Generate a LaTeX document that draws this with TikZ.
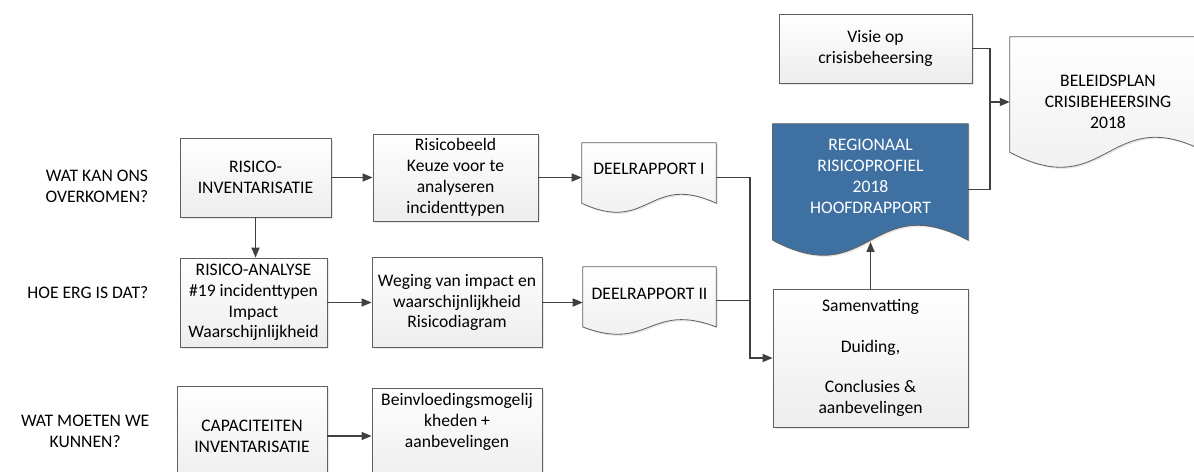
\documentclass[tikz,border=0pt]{standalone}
\usepackage{fontspec}
\setmainfont{Carlito}
\usetikzlibrary{arrows.meta,calc,shadows}

\definecolor{regblue}{HTML}{3E71A1}
\definecolor{lijn}{HTML}{404040}

\tikzset{
  box/.style={draw=gray!75!black, line width=0.6pt, top color=white, bottom color=gray!14,
    align=center, inner sep=1pt,
    drop shadow={shadow xshift=1.2pt, shadow yshift=-1.2pt, opacity=0.18}},
  docbox/.style={inner sep=0pt},
  docline/.style={draw=gray!75!black, line width=0.6pt, top color=white, bottom color=gray!14,
    drop shadow={shadow xshift=1.2pt, shadow yshift=-1.2pt, opacity=0.18}},
  doctxt/.style={align=center, inner sep=0pt},
  vraag/.style={align=center, anchor=east},
  conn/.style={->, draw=lijn, line width=1.1pt},
  lijnstuk/.style={draw=lijn, line width=1.1pt},
}

% outline of a document shape round node #2, wave amplitude #3
\newcommand{\docoutline}[3][]{%
  \path[docline,#1] (#2.north west) -- (#2.north east) -- ([yshift=#3]#2.south east)
    .. controls ([yshift=#3*4.46]#2.south) and ([yshift=-#3*2.46]#2.south)
    .. ([yshift=#3]#2.south west) -- cycle;}

\begin{document}
\begin{tikzpicture}[x=0.75pt, y=-0.75pt,
  >={Triangle[length=7.5pt, width=6pt]},
  every node/.style={font=\fontsize{13.2}{15.6}\selectfont}]
\clip (0,0) rectangle (1194,471);

% vragen links
\node[vraag] (q1) at (153,186) {WAT KAN ONS\\OVERKOMEN?};
\node[vraag] (q2) at (153,293) {HOE ERG IS DAT?};
\node[vraag] (q3) at (154,431) {WAT MOETEN WE\\KUNNEN?};

% stappen
\node[box, minimum width=113.25pt, minimum height=59.25pt] (inv) at (255.5,177.5)
  {RISICO-\\INVENTARISATIE};
\node[box, minimum width=123.75pt, minimum height=65.25pt] (beeld) at (455.5,177.5)
  {Risicobeeld\\Keuze voor te\\analyseren\\incidenttypen};
\node[box, minimum width=110.25pt, minimum height=66.75pt] (ana) at (253.5,302.5)
  {RISICO-ANALYSE\\\#19 incidenttypen\\Impact\\Waarschijnlijkheid};
\node[box, minimum width=127.5pt, minimum height=67.5pt] (weg) at (457,302.5)
  {Weging van impact en\\waarschijnlijkheid\\Risicodiagram};
\node[box, minimum width=112.5pt, minimum height=75pt] (cap) at (252,436)
  {CAPACITEITEN\\INVENTARISATIE};
\node[box, minimum width=127.5pt, minimum height=72pt] (bein) at (457,436)
  {Beinvloedingsmogelij\\kheden +\\aanbevelingen\\[8pt]};

% rapporten
\node[docbox, minimum width=100.5pt, minimum height=51.75pt] (d1) at (649,177.5) {};
\docoutline{d1}{6.75pt}
\node[doctxt] (d1t) at ([yshift=6.75pt]d1.center) {DEELRAPPORT I};

\node[docbox, minimum width=99.75pt, minimum height=50.25pt] (d2) at (649.5,300.5) {};
\docoutline{d2}{5.5pt}
\node[doctxt] (d2t) at ([yshift=5.25pt]d2.center) {DEELRAPPORT II};

\node[docbox, minimum width=146.25pt, minimum height=98.25pt] (reg) at (870.5,189.5) {};
\docoutline[top color=regblue, bottom color=regblue]{reg}{11.25pt}
\node[doctxt, text=white] (regt) at ([yshift=9.75pt]reg.center)
  {REGIONAAL\\RISICOPROFIEL\\2018\\HOOFDRAPPORT};

\node[box, minimum width=146.25pt, minimum height=103.5pt] (samen) at (870.5,358)
  {Samenvatting\\[15pt]Duiding,\\[15pt]Conclusies \&\\aanbevelingen};

\node[box, minimum width=144.75pt, minimum height=51.75pt] (visie) at (875.5,48.5)
  {Visie op\\crisisbeheersing};

\node[docbox, minimum width=147pt, minimum height=97.5pt] (beleid) at (1108,102) {};
\docoutline{beleid}{11.25pt}
\node[doctxt] (beleidt) at (beleid.center) {BELEIDSPLAN\\CRISIBEHEERSING\\2018};

% verbindingen
\coordinate (bus1) at (750,358);
\coordinate (bus2) at (990,102);
\draw[conn] (inv.east) -- (inv.east -| beeld.west);
\draw[conn] (inv.south) -- (inv.south |- ana.north);
\draw[conn] (ana.east) -- (ana.east -| weg.west);
\draw[conn] (cap.east) -- (cap.east -| bein.west);
\draw[conn] (beeld.east) -- (beeld.east -| d1.west);
\draw[conn] (weg.east) -- (weg.east -| d2.west);
\draw[conn] (d1.east) -| (bus1) -- (samen.west);
\draw[lijnstuk] (d2.east) -- (d2.east -| bus1);
\draw[conn] (samen.north) -- ([yshift=10pt]reg.south);
\draw[conn] (visie.east) -| (bus2) -- (beleid.west);
\draw[lijnstuk] (reg.east) -| (bus2);

\end{tikzpicture}
\end{document}
